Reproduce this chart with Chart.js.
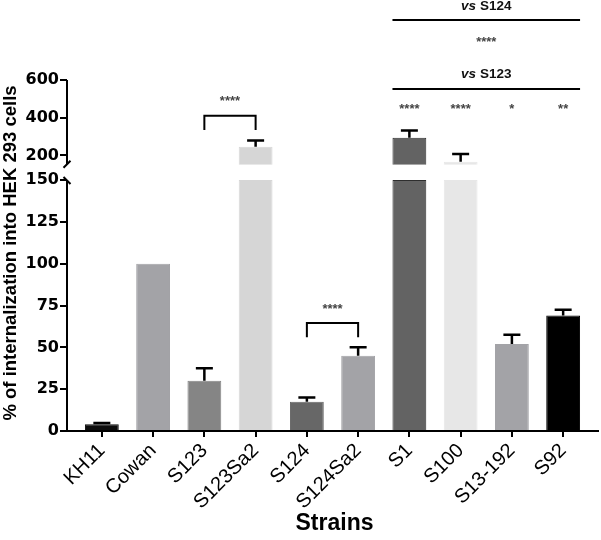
<!DOCTYPE html>
<html><head><meta charset="utf-8">
<script src="https://cdn.jsdelivr.net/npm/chart.js@4"></script>
<style>html,body{margin:0;padding:0;background:#fff}</style>
</head><body>
<div style="width:601px;height:540px;position:relative"><canvas id="c" width="601" height="540"></canvas></div>
<script>
// ---- data ----
const strains = ['KH11','Cowan','S123','S123Sa2','S124','S124Sa2','S1','S100','S13-192','S92'];
const means   = [4, 100, 30, 245, 17.5, 45, 293, 166, 52, 69];
const errors  = [0.8, 0, 7.5, 34, 2.6, 5, 39, 41, 5.5, 3.5];
const yTickLabels = [0, 25, 50, 75, 100, 125, 150, 200, 400, 600];
const groupStars = ['****', '****', '*', '**'];   // S1, S100, S13-192, S92 vs S123
const pairStars = ['****', '****'];                // S123 vs S123Sa2, S124 vs S124Sa2

// ---- styles ----
const barColors = ['#0c0c0c','#a3a3a7','#858585','#d6d6d6','#676767','#a3a3a7','#636363','#e7e7e7','#a3a3a7','#000000'];
const barBorders = ['#0c0c0c','#a3a3a7','#858585','#d6d6d6','#676767','#a3a3a7','#2e2e2e','#e7e7e7','#a3a3a7','#000000'];

// ---- broken axis mapping ----
const BREAK_VALUE = 150, GAP_UNITS = 9.15, TOP_RATIO = 0.1126, TOP_MAX = 600;
function t(v){ return v <= BREAK_VALUE ? v : BREAK_VALUE + GAP_UNITS + (v - BREAK_VALUE) * TOP_RATIO; }

const lowerPieces = means.map((m,i)=>({x:i, y:[0, Math.min(m, BREAK_VALUE)]}));
const upperPieces = means.map((m,i)=>({x:i, y: m > BREAK_VALUE ? [BREAK_VALUE + GAP_UNITS, t(m)] : null}));

const FONT = '"Liberation Sans", Arial, sans-serif';

const overlay = {
  id: 'overlay',
  afterDatasetsDraw(chart){
    const ctx = chart.ctx, xs = chart.scales.x, ys = chart.scales.y, ca = chart.chartArea;
    ctx.save();
    // error bars
    ctx.strokeStyle = '#000'; ctx.lineWidth = 2.5; ctx.lineCap = 'butt';
    means.forEach((m,i)=>{
      if (!errors[i]) return;
      const x = xs.getPixelForValue(i);
      const y1 = ys.getPixelForValue(t(m));
      const y2 = ys.getPixelForValue(t(m + errors[i]));
      ctx.beginPath(); ctx.moveTo(x, y1); ctx.lineTo(x, y2);
      ctx.moveTo(x - 8.5, y2); ctx.lineTo(x + 8.5, y2); ctx.stroke();
    });
    // broken y axis
    const ax = ca.left;
    ctx.lineWidth = 2;
    const yLow0 = ys.getPixelForValue(0), yLow1 = ys.getPixelForValue(BREAK_VALUE);
    const yUp0 = ys.getPixelForValue(BREAK_VALUE + GAP_UNITS), yUp1 = ys.getPixelForValue(t(TOP_MAX));
    ctx.beginPath();
    ctx.moveTo(ax, yLow0 + 1); ctx.lineTo(ax, yLow1);
    ctx.moveTo(ax, yUp0); ctx.lineTo(ax, yUp1);
    // break marks
    ctx.moveTo(ax - 3.5, yUp0 + 3); ctx.lineTo(ax + 3.5, yUp0 - 4);
    ctx.moveTo(ax - 3.5, yLow1 - 3); ctx.lineTo(ax + 3.5, yLow1 + 4);
    ctx.stroke();

    // pair brackets
    const brackets = [
      {a:2, b:3, top:410, leg:335, star:495},
      {a:4, b:5, top:64.5, leg:56, star:74}
    ];
    ctx.lineWidth = 2;
    brackets.forEach((br,k)=>{
      const xa = xs.getPixelForValue(br.a), xb = xs.getPixelForValue(br.b);
      const yt = ys.getPixelForValue(t(br.top)), yl = ys.getPixelForValue(t(br.leg));
      ctx.beginPath(); ctx.moveTo(xa, yl); ctx.lineTo(xa, yt); ctx.lineTo(xb, yt); ctx.lineTo(xb, yl); ctx.stroke();
      ctx.fillStyle = '#444'; ctx.font = 'bold 13px ' + FONT; ctx.textAlign = 'center'; ctx.textBaseline = 'middle';
      ctx.fillText(pairStars[k], (xa + xb)/2, ys.getPixelForValue(t(br.star)) + 2);
    });

    // group comparisons
    const half = (xs.getPixelForValue(1) - xs.getPixelForValue(0)) * 0.33;
    const gx0 = xs.getPixelForValue(6) - half, gx1 = xs.getPixelForValue(9) + half, gc = (gx0 + gx1)/2;
    const top = ca.top;
    ctx.beginPath();
    ctx.moveTo(gx0, top - 60); ctx.lineTo(gx1, top - 60);
    ctx.moveTo(gx0, top + 9); ctx.lineTo(gx1, top + 9);
    ctx.stroke();
    function vsLabel(txt, y){
      ctx.textBaseline = 'middle'; ctx.fillStyle = '#111';
      const f1 = 'italic bold 13.5px ' + FONT, f2 = 'bold 13.5px ' + FONT;
      ctx.font = f1; const w1 = ctx.measureText('vs ').width;
      ctx.font = f2; const w2 = ctx.measureText(txt).width;
      const sx = gc - (w1 + w2)/2;
      ctx.textAlign = 'left';
      ctx.font = f1; ctx.fillText('vs ', sx, y);
      ctx.font = f2; ctx.fillText(txt, sx + w1, y);
    }
    vsLabel('S124', top - 74);
    vsLabel('S123', top - 6);
    ctx.fillStyle = '#444'; ctx.font = 'bold 13px ' + FONT; ctx.textAlign = 'center';
    ctx.fillText('****', gc, top - 38);
    groupStars.forEach((s,k)=>{ ctx.fillText(s, xs.getPixelForValue(6 + k), top + 29); });

    // axis titles
    ctx.fillStyle = '#000'; ctx.textAlign = 'center'; ctx.textBaseline = 'middle';
    ctx.font = 'bold 18.5px ' + FONT;
    ctx.save(); ctx.translate(11, 253); ctx.rotate(-Math.PI/2);
    ctx.fillText('% of internalization into HEK 293 cells', 0, 0); ctx.restore();
    ctx.font = 'bold 23px ' + FONT;
    ctx.fillText('Strains', (ca.left + ca.right)/2 + 2, 524);
    ctx.restore();
  }
};

new Chart(document.getElementById('c'), {
  type: 'bar',
  data: {
    datasets: [
      { data: lowerPieces, backgroundColor: barColors, borderColor: barBorders, borderWidth: 1, grouped: false,
        barPercentage: 0.66, categoryPercentage: 1.0 },
      { data: upperPieces, backgroundColor: barColors, borderColor: barBorders, borderWidth: 1, grouped: false,
        barPercentage: 0.66, categoryPercentage: 1.0 }
    ]
  },
  options: {
    responsive: false, animation: false,
    layout: { padding: { top: 80, right: 3, left: 0, bottom: 0 } },
    plugins: { legend: { display: false }, tooltip: { enabled: false } },
    scales: {
      x: {
        type: 'linear', min: -0.68, max: 9.68, offset: false,
        afterBuildTicks: s => { s.ticks = strains.map((_, i) => ({ value: i })); },
        afterFit: s => { s.height = 109; },
        grid: { display: true, drawOnChartArea: false, drawTicks: true, tickLength: 6, color: '#000', lineWidth: 2, offset: false },
        border: { display: true, color: '#000', width: 2 },
        ticks: { autoSkip: false, minRotation: 45, maxRotation: 45, padding: 2, color: '#000',
          font: { family: FONT, size: 20 }, callback: v => strains[v] }
      },
      y: {
        type: 'linear', min: 0, max: t(TOP_MAX),
        afterBuildTicks: s => { s.ticks = yTickLabels.map(v => ({ value: t(v) })); },
        afterFit: s => { s.width = 67; },
        grid: { display: true, drawOnChartArea: false, drawTicks: true, tickLength: 7, color: '#000', lineWidth: 2 },
        border: { display: false },
        ticks: { padding: 1, color: '#000', font: { family: '"DejaVu Sans", sans-serif', size: 16, weight: 'bold' },
          callback: (v, i) => String(yTickLabels[i]) }
      }
    }
  },
  plugins: [overlay]
});
</script>
</body></html>
